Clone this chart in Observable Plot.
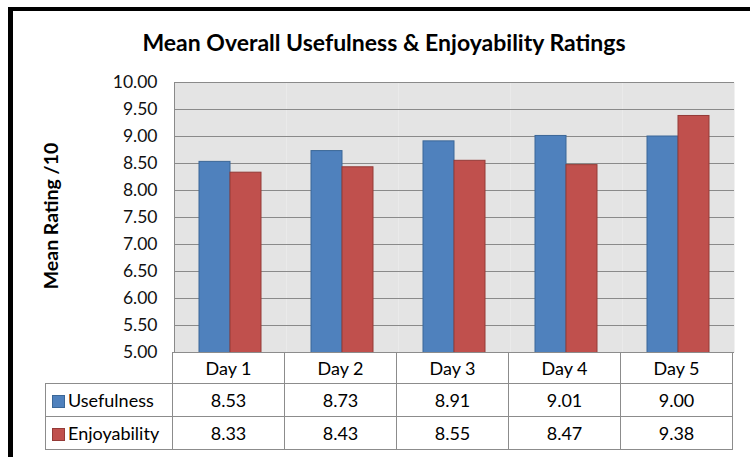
<!DOCTYPE html>
<html><head><meta charset="utf-8">
<script src="https://cdn.jsdelivr.net/npm/d3@7"></script>
<script src="https://cdn.jsdelivr.net/npm/@observablehq/plot@0.6"></script>
<style>
body{margin:0;background:#fff;}
#wrap{position:relative;width:750px;height:457px;overflow:hidden;font-family:Lato,'Open Sans',sans-serif;color:#000;background:#fff;}
#border{position:absolute;left:8px;top:7px;width:800px;height:500px;border-left:5px solid #000;border-top:4px solid #000;box-sizing:border-box;}
#title{position:absolute;left:0;width:768px;top:28px;text-align:center;font-weight:bold;font-size:23px;}
#chart{position:absolute;left:0;top:0;}
#ylabel{position:absolute;left:50px;top:216px;transform:translate(-50%,-50%) rotate(-90deg);white-space:nowrap;font-weight:bold;font-size:19.5px;}
#tbl{position:absolute;left:45px;top:352px;border-collapse:collapse;font-size:18px;table-layout:fixed;}
#tbl td{border:1px solid #8c8c8c;text-align:center;padding:0;box-sizing:border-box;}
#tbl td.blank{border-top:none;border-left:none;}
#tbl td.lab{text-align:left;padding-left:6px;white-space:nowrap;}
.sw{display:inline-block;width:13px;height:13px;margin-right:3px;vertical-align:-1px;box-sizing:border-box;}
</style></head>
<body>
<div id="wrap">
  <div id="border"></div>
  <div id="chart"></div>
  <div id="title">Mean Overall Usefulness &amp; Enjoyability Ratings</div>
  <div id="ylabel">Mean Rating /10</div>
</div>
<script>
const days = ["Day 1", "Day 2", "Day 3", "Day 4", "Day 5"];
const seriesNames = ["Usefulness", "Enjoyability"];
const usefulness = [8.53, 8.73, 8.91, 9.01, 9.00];
const enjoyability = [8.33, 8.43, 8.55, 8.47, 9.38];
const yTicks = [5, 5.5, 6, 6.5, 7, 7.5, 8, 8.5, 9, 9.5, 10];
const fills = ["#4f81bd", "#c0504d"];
const strokes = ["#3b6797", "#943a37"];

const values = [usefulness, enjoyability];
const data = days.flatMap((d, i) => seriesNames.map((s, k) => ({day: d, series: s, value: values[k][i]})));

const fmt = d => d.toFixed(2);
const chart = Plot.plot({
  width: 750, height: 362,
  marginLeft: 172, marginRight: 15, marginTop: 82, marginBottom: 10,
  style: {fontFamily: "Lato, 'Open Sans', sans-serif", background: "transparent"},
  fx: {domain: days, padding: 0, axis: null},
  x: {domain: seriesNames, paddingInner: 0, paddingOuter: 0.76, axis: null},
  y: {domain: [5, 10], axis: null},
  marks: [
    Plot.frame({fill: "#e4e4e4", stroke: null}),
    Plot.gridY(yTicks, {stroke: "#8a8a8a", strokeOpacity: 1}),
    ...seriesNames.map((s, k) => Plot.barY(data.filter(d => d.series === s), {
      fx: "day", x: "series", y: "value", fill: fills[k], stroke: strokes[k], strokeWidth: 1, clip: true
    })),
    Plot.axisY(yTicks, {tickSize: 0, tickPadding: 17, tickFormat: fmt, fontSize: 17.5, fill: "#111", label: null}),
    Plot.frame({facet: "super", anchor: "left", stroke: "#8a8a8a"})
  ]
});
document.getElementById("chart").appendChild(chart);

// data table beneath, aligned to the fx scale
const fx = chart.scale("fx");
const bw = fx.bandwidth;
const firstCol = fx.range[0] - 45;
const tbl = d3.select("#wrap").append("table").attr("id", "tbl");
const cg = tbl.append("colgroup");
cg.append("col").style("width", firstCol + "px");
days.forEach(() => cg.append("col").style("width", bw + "px"));
tbl.style("width", (firstCol + bw * days.length) + "px");
const hr = tbl.append("tr").style("height", "31px");
hr.append("td").attr("class", "blank");
days.forEach(d => hr.append("td").text(d));
seriesNames.forEach((s, k) => {
  const r = tbl.append("tr").style("height", "33px");
  const c = r.append("td").attr("class", "lab");
  c.append("span").attr("class", "sw").style("background", fills[k]).style("border", "1px solid " + strokes[k]);
  c.append("span").text(s);
  values[k].forEach(v => r.append("td").text(fmt(v)));
});
</script>
</body></html>
